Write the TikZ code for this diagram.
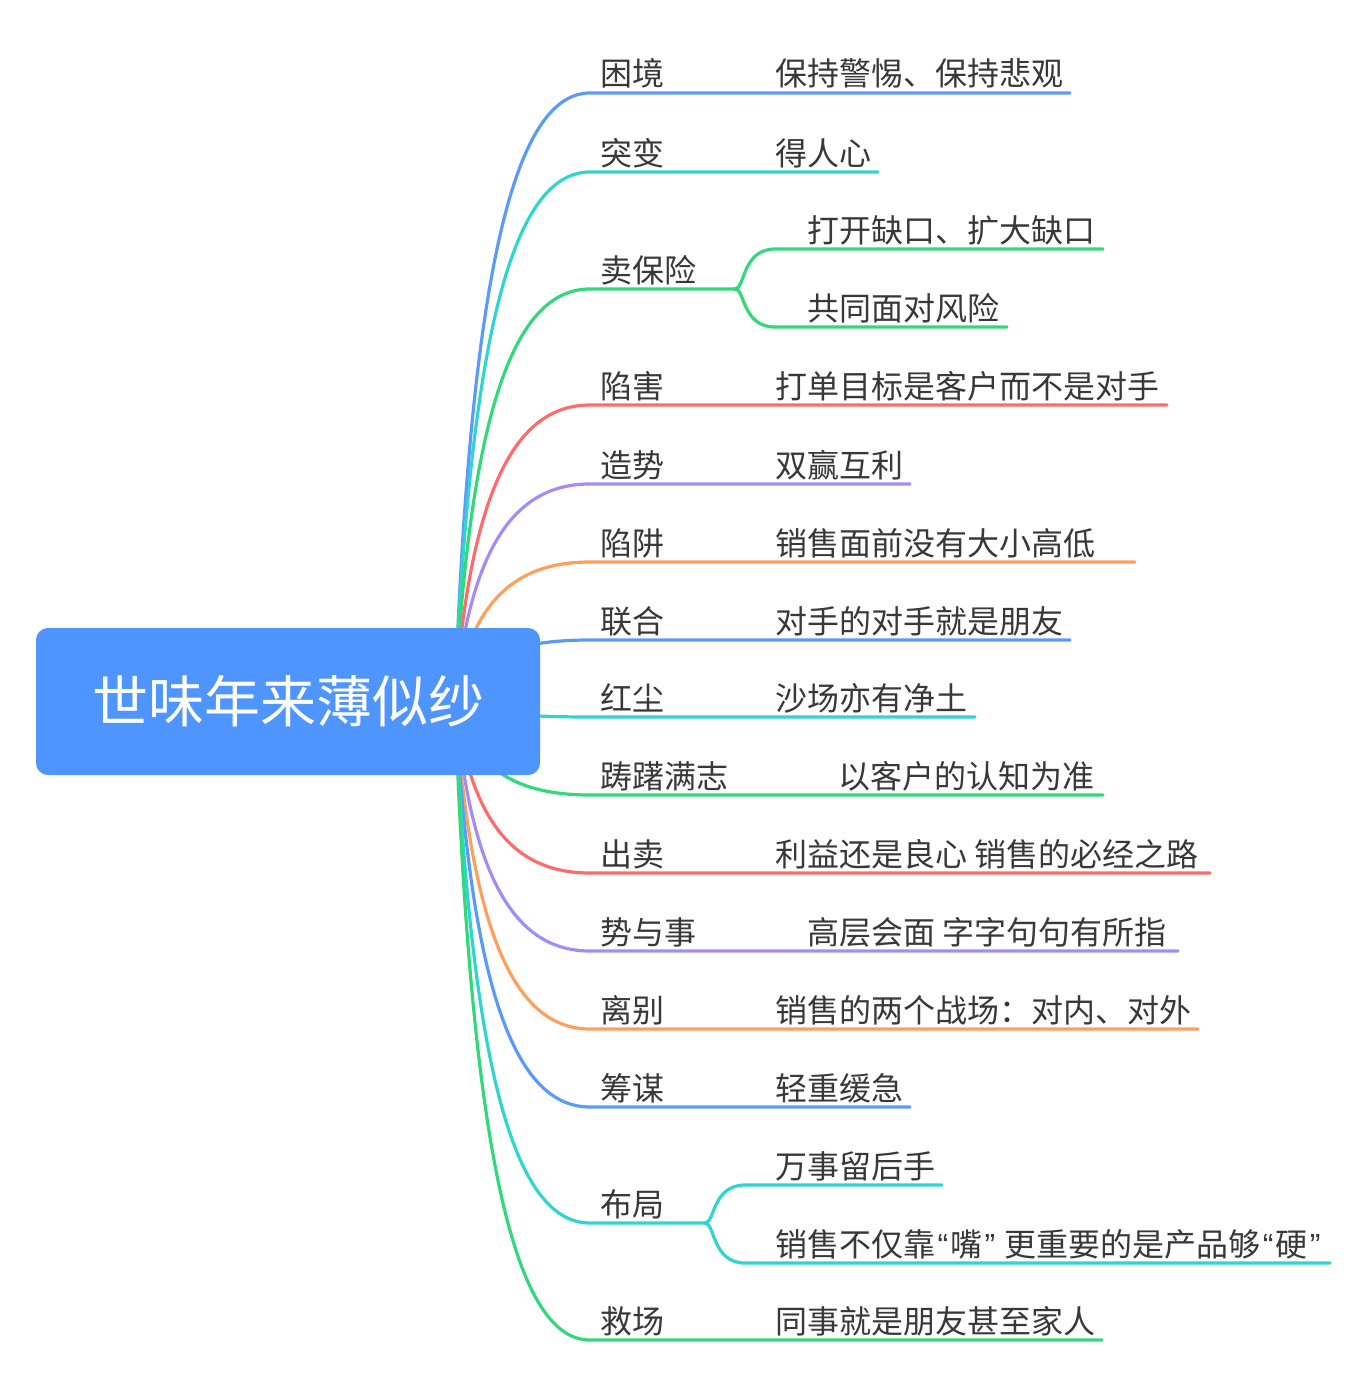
\documentclass[tikz,border=0pt]{standalone}
\usepackage{fontspec}
\setmainfont{Noto Sans CJK SC}
\newfontfamily\latq{Liberation Sans}
\newcommand\qo{\makebox[7.5pt]{\latq “}}
\newcommand\qc{\makebox[7.5pt]{\latq ”}}
\definecolor{cblue}{HTML}{5A9BFA}
\definecolor{ccyan}{HTML}{2FD5CF}
\definecolor{cgreen}{HTML}{31D97A}
\definecolor{cred}{HTML}{FF6B6B}
\definecolor{cpurple}{HTML}{A48CF8}
\definecolor{corange}{HTML}{FF9F5C}
\definecolor{rootfill}{HTML}{4E95FF}
\definecolor{txt}{HTML}{383838}
\tikzset{
  conn/.style={line width=1.6pt, line cap=round},
  lbl/.style={anchor=base west, inner sep=0pt, text=txt, font=\fontsize{16pt}{18pt}\selectfont},
  rootbox/.style={fill=rootfill, rounded corners=6pt, minimum width=252pt, minimum height=73.5pt, inner sep=0pt, text=white, font=\fontsize{28pt}{32pt}\selectfont}
}
% #1 name, #2 y, #3 colour, #4 label, #5 child x, #6 child text, #7 end x
\newcommand\mmbranch[7]{%
  \coordinate (#1s) at (590,#2);
  \coordinate (#1e) at (#7,#2);
  \node[lbl] (#1l) at (600,#2-7) {#4};
  \node[lbl] (#1c) at (#5,#2-7) {#6};
  \draw[conn,#3] (hub) .. controls (471,{#2+0.25*(700-#2)}) and (520,#2) .. (#1s) -- (#1e);
}
% forked branch: #1 name, #2 y, #3 colour, #4 label, #5 fork x, #6 child x, #7 y1, #8 text1, #9 end1
\newcommand\mmfork[9]{%
  \coordinate (#1s) at (590,#2);
  \coordinate (#1f) at (#5,#2);
  \node[lbl] (#1l) at (600,#2-7) {#4};
  \draw[conn,#3] (hub) .. controls (471,{#2+0.25*(700-#2)}) and (520,#2) .. (#1s) -- (#1f);
  \coordinate (#1a) at ({#5+40},#7);
  \coordinate (#1ae) at (#9,#7);
  \node[lbl] (#1ac) at (#6,#7-7) {#8};
  \draw[conn,#3] (#1f) .. controls ({#5+10},#2) and ({#5+7},#7) .. (#1a) -- (#1ae);
}
\newcommand\mmsub[7]{% #1 name, #2 y, #3 colour, #4 child x, #5 y2, #6 text2, #7 end2
  \coordinate (#1b) at ({\forkx+40},#5);
  \coordinate (#1be) at (#7,#5);
  \node[lbl] (#1bc) at (#4,#5-7) {#6};
  \draw[conn,#3] (#1f) .. controls ({\forkx+10},#2) and ({\forkx+7},#5) .. (#1b) -- (#1be);
}
\begin{document}
\begin{tikzpicture}[x=0.5pt,y=-0.5pt]
\useasboundingbox (0,0) rectangle (1370,1386);
\coordinate (hub) at (455,700);
\mmbranch{b1}{93}{cblue}{困境}{775}{保持警惕、保持悲观}{1070}
\mmbranch{b2}{172}{ccyan}{突变}{775}{得人心}{878}
\mmfork{b3}{289}{cgreen}{卖保险}{735}{807}{249}{打开缺口、扩大缺口}{1103}
\def\forkx{735}
\mmsub{b3}{289}{cgreen}{807}{327}{共同面对风险}{1007}
\mmbranch{b4}{405}{cred}{陷害}{775}{打单目标是客户而不是对手}{1167}
\mmbranch{b5}{484}{cpurple}{造势}{775}{双赢互利}{910}
\mmbranch{b6}{562}{corange}{陷阱}{775}{销售面前没有大小高低}{1135}
\mmbranch{b7}{640}{cblue}{联合}{775}{对手的对手就是朋友}{1070}
\mmbranch{b8}{717}{ccyan}{红尘}{775}{沙场亦有净土}{975}
\mmbranch{b9}{795}{cgreen}{踌躇满志}{838}{以客户的认知为准}{1103}
\mmbranch{b10}{873}{cred}{出卖}{775}{利益还是良心 销售的必经之路}{1210}
\mmbranch{b11}{951}{cpurple}{势与事}{807}{高层会面 字字句句有所指}{1178}
\mmbranch{b12}{1029}{corange}{离别}{775}{销售的两个战场：对内、对外}{1198}
\mmbranch{b13}{1107}{cblue}{筹谋}{775}{轻重缓急}{910}
\mmfork{b14}{1223}{ccyan}{布局}{705}{775}{1185}{万事留后手}{942}
\def\forkx{705}
\mmsub{b14}{1223}{ccyan}{775}{1263}{销售不仅靠\qo 嘴\qc{} 更重要的是产品够\qo 硬\qc}{1330}
\mmbranch{b15}{1340}{cgreen}{救场}{775}{同事就是朋友甚至家人}{1102}
\node[rootbox] (root) at (288,701.5) {世味年来薄似纱};
\end{tikzpicture}
\end{document}
